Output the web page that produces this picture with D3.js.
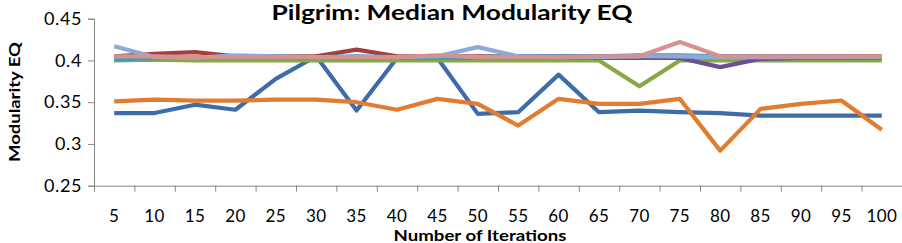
<!DOCTYPE html>
<html>
<head>
<meta charset="utf-8">
<script src="https://cdn.jsdelivr.net/npm/d3@7"></script>
<style>
  body { margin: 0; background: #fff; }
  text { font-family: Lato, "Open Sans", sans-serif; }
</style>
</head>
<body>
<div id="container"></div>
<script>
/* CONSTANTS AND GLOBALS */
const width = 902;
const height = 243;
const margin = {top: 18.7, bottom: 57.3, left: 94, right: 0};

/* DATA */
const iterations = [5, 10, 15, 20, 25, 30, 35, 40, 45, 50, 55, 60, 65, 70, 75, 80, 85, 90, 95, 100];
const yTicks = [0.25, 0.3, 0.35, 0.4, 0.45];

const blue      = [0.337, 0.337, 0.347, 0.341, 0.378, 0.405, 0.340, 0.403, 0.403, 0.336, 0.338, 0.383, 0.338, 0.340, 0.338, 0.337, 0.334, 0.334, 0.334, 0.334];
const red       = [0.405, 0.408, 0.410, 0.405, 0.405, 0.405, 0.413, 0.405, 0.405, 0.405, 0.405, 0.405, 0.405, 0.405, 0.405, 0.405, 0.405, 0.405, 0.405, 0.405];
const green     = [0.400, 0.401, 0.400, 0.400, 0.400, 0.400, 0.400, 0.400, 0.400, 0.400, 0.400, 0.400, 0.400, 0.369, 0.400, 0.400, 0.400, 0.400, 0.400, 0.400];
const purple    = [0.404, 0.404, 0.404, 0.404, 0.404, 0.404, 0.404, 0.404, 0.404, 0.404, 0.404, 0.404, 0.403, 0.403, 0.403, 0.392, 0.402, 0.403, 0.403, 0.403];
const teal      = [0.401, 0.403, 0.403, 0.404, 0.404, 0.404, 0.405, 0.404, 0.403, 0.404, 0.405, 0.405, 0.405, 0.406, 0.406, 0.405, 0.405, 0.405, 0.405, 0.404];
const orange    = [0.351, 0.353, 0.352, 0.352, 0.353, 0.353, 0.350, 0.341, 0.354, 0.348, 0.322, 0.354, 0.348, 0.348, 0.354, 0.292, 0.342, 0.348, 0.352, 0.317];
const lightBlue = [0.417, 0.404, 0.403, 0.406, 0.405, 0.404, 0.404, 0.404, 0.405, 0.416, 0.405, 0.404, 0.404, 0.405, 0.405, 0.404, 0.404, 0.404, 0.404, 0.404];
const pink      = [0.405, 0.405, 0.404, 0.404, 0.404, 0.404, 0.404, 0.404, 0.406, 0.404, 0.404, 0.404, 0.405, 0.405, 0.422, 0.405, 0.405, 0.405, 0.405, 0.405];

// drawing order = stacking order
const series = [
  {name: "blue", values: blue, color: "#3e6ca8"},
  {name: "red", values: red, color: "#a53f3c"},
  {name: "green", values: green, color: "#86a846"},
  {name: "purple", values: purple, color: "#6c4f96"},
  {name: "teal", values: teal, color: "#3c9dbd"},
  {name: "orange", values: orange, color: "#e27d2f"},
  {name: "lightBlue", values: lightBlue, color: "#8eaad9"},
  {name: "pink", values: pink, color: "#d69292"}
];

/* SCALES */
const xScale = d3.scaleBand()
  .domain(iterations)
  .range([margin.left, width - margin.right]);

// same extent, used only for the tick marks between categories
const xEdge = d3.scaleLinear()
  .domain([0, iterations.length])
  .range([margin.left, width - margin.right]);

const yScale = d3.scaleLinear()
  .domain([0.25, 0.45])
  .range([height - margin.bottom, margin.top]);

/* HTML ELEMENTS */
const svg = d3.select("#container")
  .append("svg")
  .attr("width", width)
  .attr("height", height);

// y axis
const yAxis = svg.append("g")
  .attr("transform", `translate(${margin.left}, 0)`)
  .call(d3.axisLeft(yScale).tickValues(yTicks).tickSize(6).tickPadding(6).tickFormat(d => String(+d.toFixed(2))));
yAxis.selectAll("text")
  .style("font-size", "18px")
  .style("letter-spacing", "0.6px")
  .attr("fill", "#000");

// x axis tick marks
svg.append("g")
  .attr("transform", `translate(0, ${yScale(0.25)})`)
  .call(d3.axisBottom(xEdge).tickValues(d3.range(iterations.length + 1)).tickSize(6).tickFormat(""));

// x axis labels
const xAxis = svg.append("g")
  .attr("transform", `translate(0, ${yScale(0.25)})`)
  .call(d3.axisBottom(xScale).tickSize(0).tickPadding(24));
xAxis.select(".domain").remove();
xAxis.selectAll("text")
  .style("font-size", "17px")
  .style("letter-spacing", "0.4px")
  .attr("fill", "#000");

svg.selectAll(".domain, .tick line").attr("stroke", "#868686");

// lines
const line = d3.line()
  .x((d, i) => xScale(iterations[i]) + xScale.bandwidth() / 2)
  .y(d => yScale(d));

svg.append("g")
  .selectAll("path")
  .data(series)
  .join("path")
  .attr("d", d => line(d.values))
  .attr("fill", "none")
  .attr("stroke", d => d.color)
  .attr("stroke-width", 4.2)
  .attr("stroke-linejoin", "round");

// titles
svg.append("text")
  .attr("x", 452)
  .attr("y", 20)
  .attr("text-anchor", "middle")
  .attr("textLength", 361)
  .attr("lengthAdjust", "spacingAndGlyphs")
  .style("font-size", "21px")
  .style("font-weight", "bold")
  .text("Pilgrim: Median Modularity EQ");

svg.append("text")
  .attr("x", 480)
  .attr("y", 241)
  .attr("text-anchor", "middle")
  .attr("textLength", 173)
  .attr("lengthAdjust", "spacingAndGlyphs")
  .style("font-size", "15.5px")
  .style("font-weight", "bold")
  .text("Number of Iterations");

svg.append("text")
  .attr("transform", "translate(20, 102) rotate(-90)")
  .attr("text-anchor", "middle")
  .attr("textLength", 120)
  .attr("lengthAdjust", "spacingAndGlyphs")
  .style("font-size", "16px")
  .style("font-weight", "bold")
  .text("Modularity EQ");
</script>
</body>
</html>
